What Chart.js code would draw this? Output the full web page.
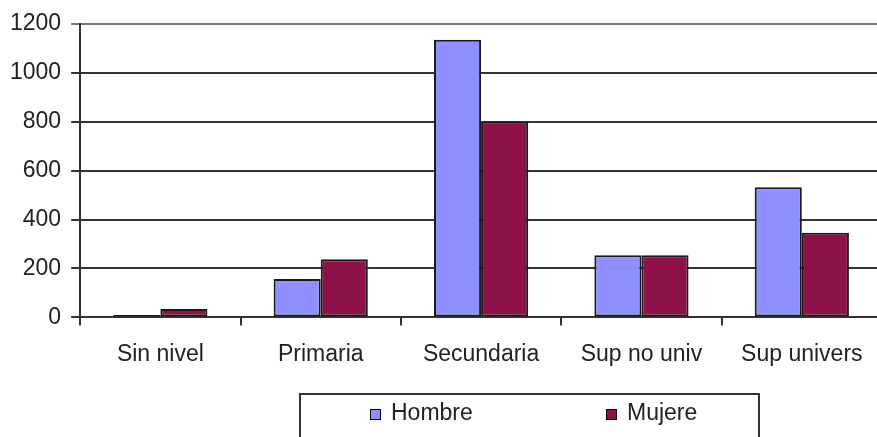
<!DOCTYPE html>
<html>
<head>
<meta charset="utf-8">
<script src="https://cdn.jsdelivr.net/npm/chart.js@4"></script>
<style>
  html, body { margin: 0; padding: 0; background: #fff; overflow: hidden; }
  #wrap { position: relative; width: 882px; height: 437px; }
</style>
</head>
<body>
<div id="wrap"><canvas id="c"></canvas></div>
<script>
const categories = ["Sin nivel", "Primaria", "Secundaria", "Sup no univ", "Sup univers"];
const hombre = [10, 157, 1135, 254, 532];
const mujere = [34, 238, 800, 254, 346];
const seriesNames = ["Hombre", "Mujere"];
const yTicks = [0, 200, 400, 600, 800, 1000, 1200];

const FONT = "'Liberation Sans', Arial, sans-serif";
const LINE = '#333';
const FS = 23;

const boxLegend = {
  id: 'boxLegend',
  afterDraw(chart, args, opts) {
    const ctx = chart.ctx;
    ctx.save();
    ctx.strokeStyle = LINE;
    ctx.lineWidth = 2;
    ctx.strokeRect(opts.left, opts.top, opts.right - opts.left, 120);
    ctx.font = FS + 'px ' + FONT;
    ctx.textBaseline = 'middle';
    ctx.textAlign = 'left';
    chart.data.datasets.forEach((ds, i) => {
      const x = opts.itemX[i];
      const y = opts.textY;
      ctx.fillStyle = ds.backgroundColor;
      ctx.fillRect(x, y - 5, 11, 11);
      ctx.strokeStyle = '#000';
      ctx.lineWidth = 1;
      ctx.strokeRect(x + 0.5, y - 4.5, 10, 10);
      ctx.fillStyle = '#222';
      ctx.fillText(ds.label, x + 21, y);
    });
    ctx.restore();
  }
};

new Chart(document.getElementById('c'), {
  type: 'bar',
  data: {
    labels: categories,
    datasets: [
      { label: seriesNames[0], data: hombre, backgroundColor: '#8F8FFF', borderColor: '#1a1a1a', borderWidth: 2, borderSkipped: false },
      { label: seriesNames[1], data: mujere, backgroundColor: '#8E1249', borderColor: '#1a1a1a', borderWidth: 2, borderSkipped: false }
    ]
  },
  options: {
    responsive: true,
    maintainAspectRatio: false,
    animation: false,
    layout: { padding: { left: 0, top: 23, right: 0, bottom: 54 } },
    datasets: { bar: { categoryPercentage: 0.5875, barPercentage: 1.0 } },
    plugins: {
      legend: { display: false },
      tooltip: { enabled: false },
      boxLegend: { left: 300, top: 394, right: 759, itemX: [370, 606], textY: 414 }
    },
    scales: {
      x: {
        grid: { offset: true, drawOnChartArea: false, drawTicks: true, tickLength: 8, color: LINE, lineWidth: 2 },
        border: { display: true, color: LINE, width: 2 },
        ticks: { padding: 15, color: '#222', font: { family: FONT, size: FS } }
      },
      y: {
        min: 0, max: 1200,
        afterBuildTicks: (axis) => { axis.ticks = yTicks.map(v => ({ value: v })); },
        grid: {
          drawTicks: true, tickLength: 9, lineWidth: 2,
          color: (c) => (c.tick && c.tick.value === 1200) ? '#777' : LINE
        },
        border: { display: true, color: LINE, width: 2 },
        ticks: { padding: 10, color: '#222', font: { family: FONT, size: FS }, callback: (v) => String(v) }
      }
    }
  },
  plugins: [boxLegend]
});
</script>
</body>
</html>
